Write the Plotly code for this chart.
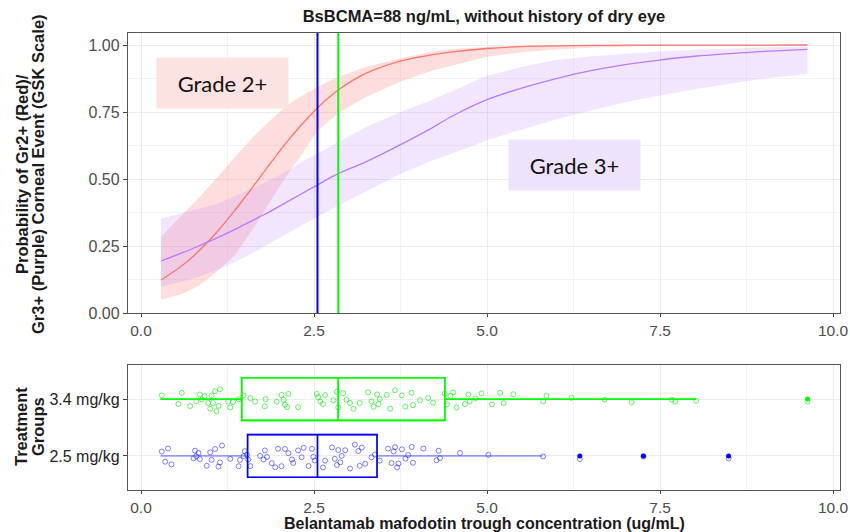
import plotly.graph_objects as go

# ---------------- data ----------------
conc = [0.29, 0.6, 0.85, 1.1, 1.35, 1.6, 1.85, 2.1, 2.3, 2.55, 2.85, 3.25, 3.75, 4.2, 4.5,
        5.0, 5.5, 6.0, 6.5, 7.0, 7.5, 8.0, 8.5, 9.0, 9.63]

gr2_mean = [0.123, 0.178, 0.235, 0.303, 0.381, 0.465, 0.552, 0.636, 0.697, 0.765, 0.832, 0.894, 0.940,
            0.963, 0.974, 0.987, 0.994, 0.997, 0.9985, 0.9993, 0.9996, 0.9998, 0.9999, 0.9999, 1.0]
gr2_upper = [0.285, 0.369, 0.434, 0.506, 0.580, 0.652, 0.715, 0.772, 0.807, 0.843, 0.882, 0.918, 0.951,
             0.975, 0.985, 0.993, 0.997, 0.999, 1.0, 1.0, 1.0, 1.0, 1.0, 1.0, 1.0]
gr2_lower = [0.049, 0.072, 0.104, 0.156, 0.214, 0.307, 0.409, 0.511, 0.583, 0.680, 0.745, 0.806, 0.864,
             0.904, 0.925, 0.956, 0.973, 0.983, 0.990, 0.994, 0.997, 0.998, 0.999, 0.999, 1.0]

gr3_mean = [0.194, 0.225, 0.252, 0.280, 0.311, 0.344, 0.377, 0.413, 0.442, 0.478, 0.520, 0.564, 0.628,
            0.690, 0.735, 0.796, 0.839, 0.875, 0.904, 0.927, 0.944, 0.958, 0.968, 0.976, 0.984]
gr3_upper = [0.353, 0.372, 0.390, 0.408, 0.435, 0.464, 0.494, 0.528, 0.560, 0.596, 0.638, 0.694, 0.750,
             0.795, 0.828, 0.885, 0.918, 0.944, 0.958, 0.968, 0.976, 0.982, 0.987, 0.991, 0.994]
gr3_lower = [0.098, 0.118, 0.136, 0.160, 0.189, 0.222, 0.258, 0.293, 0.322, 0.359, 0.400, 0.455, 0.520,
             0.568, 0.595, 0.645, 0.685, 0.722, 0.756, 0.786, 0.812, 0.835, 0.856, 0.875, 0.892]

groups = ["2.5 mg/kg", "3.4 mg/kg"]
group_colors = ["#0000FF", "#00FF00"]
whisker_colors = ["rgba(80,80,255,0.55)", "#00FF00"]
point_colors = ["rgba(0,0,255,0.5)", "rgba(0,230,0,0.6)"]
box_q1 = [1.54, 1.455]
box_median = [2.55, 2.85]
box_q3 = [3.41, 4.39]
box_low = [0.28, 0.28]
box_high = [5.80, 8.02]
outliers = [[6.34, 7.26, 8.49], [9.63]]

pts_25 = [0.30, 0.35, 0.39, 0.44, 0.76, 0.78, 0.80, 0.83, 0.85, 0.95, 1.00, 1.02, 1.07, 1.12, 1.14, 1.17,
          1.29, 1.41, 1.43, 1.48, 1.50, 1.53, 1.55, 1.58, 1.72, 1.77, 1.79, 1.82,
          1.89, 1.94, 1.98, 2.03, 2.08, 2.13, 2.18, 2.20, 2.27, 2.32, 2.35, 2.42, 2.47, 2.49, 2.51, 2.63,
          2.66, 2.76, 2.80, 2.83, 2.85, 2.88, 2.90, 2.95, 3.02, 3.09, 3.14, 3.16, 3.19, 3.24, 3.33, 3.38,
          3.45, 3.57, 3.62, 3.65, 3.67, 3.70, 3.72, 3.77, 3.82, 3.86, 3.91, 3.93, 4.08, 4.27, 4.30, 4.32,
          4.61, 5.02, 5.81, 6.34, 7.26, 8.49]
pts_34 = [0.30, 0.54, 0.59, 0.71, 0.80, 0.85, 0.88, 0.92, 0.97, 1.00, 1.02, 1.04, 1.07, 1.09, 1.12, 1.14,
          1.26, 1.29, 1.33, 1.41, 1.48, 1.58, 1.65, 1.79, 1.80,
          1.96, 2.03, 2.06, 2.08, 2.11, 2.13, 2.27, 2.54, 2.56, 2.59, 2.63, 2.66, 2.78, 2.83, 2.85, 2.92,
          2.97, 3.02, 3.07, 3.16, 3.28, 3.33, 3.36, 3.41, 3.43, 3.45, 3.55,
          3.60, 3.67, 3.77, 3.82, 3.91, 3.93, 4.03, 4.15, 4.22, 4.39, 4.42, 4.47, 4.51, 4.56, 4.68, 4.73,
          4.75, 4.83, 4.92, 5.07, 5.19, 5.24, 5.38, 5.81, 5.86, 6.22, 6.70, 7.09, 7.67, 7.72, 8.02, 9.63]
points = [pts_25, pts_34]

title_text = "BsBCMA=88 ng/mL, without history of dry eye"
ytitle_top = ["Probability of Gr2+ (Red)/", "Gr3+ (Purple) Corneal Event (GSK Scale)"]
ytitle_bottom = ["Treatment", "Groups"]
xtitle = "Belantamab mafodotin trough concentration (ug/mL)"

# ---------------- figure ----------------
FONT = "Liberation Sans, Arial, sans-serif"
fig = go.Figure()

def ribbon(x, lo, hi, color):
    return go.Scatter(x=list(x) + list(x)[::-1], y=list(hi) + list(lo)[::-1], fill="toself",
                      fillcolor=color, line=dict(width=0), mode="lines", hoverinfo="skip",
                      showlegend=False, xaxis="x", yaxis="y")

fig.add_trace(ribbon(conc, gr2_lower, gr2_upper, "rgba(248,118,109,0.24)"))
fig.add_trace(ribbon(conc, gr3_lower, gr3_upper, "rgba(190,130,255,0.20)"))
fig.add_trace(go.Scatter(x=conc, y=gr2_mean, mode="lines", line=dict(color="#F8766D", width=1.3, shape="spline"),
                         showlegend=False, xaxis="x", yaxis="y"))
fig.add_trace(go.Scatter(x=conc, y=gr3_mean, mode="lines", line=dict(color="#B77BFF", width=1.3, shape="spline"),
                         showlegend=False, xaxis="x", yaxis="y"))

# box plots (bottom)
for i, g in enumerate(groups):
    # jittered individual points
    fig.add_trace(go.Box(x=points[i], y=[g] * len(points[i]), orientation="h", boxpoints="all",
                         jitter=0.65, pointpos=0, width=0.75, whiskerwidth=0,
                         fillcolor="rgba(0,0,0,0)", line=dict(color="rgba(0,0,0,0)", width=0),
                         marker=dict(symbol="circle-open", size=5, color=point_colors[i],
                                     line=dict(width=1, color=point_colors[i])),
                         showlegend=False, xaxis="x2", yaxis="y2"))
    # whiskers
    fig.add_trace(go.Box(y=[g], q1=[box_q1[i]], median=[box_median[i]], q3=[box_q3[i]],
                         lowerfence=[box_low[i]], upperfence=[box_high[i]], orientation="h",
                         boxpoints=False, width=0.75, whiskerwidth=0,
                         fillcolor="rgba(0,0,0,0)", line=dict(color=whisker_colors[i], width=1.6),
                         showlegend=False, xaxis="x2", yaxis="y2"))
    # box body
    fig.add_trace(go.Box(y=[g], q1=[box_q1[i]], median=[box_median[i]], q3=[box_q3[i]],
                         lowerfence=[box_q1[i]], upperfence=[box_q3[i]], orientation="h",
                         boxpoints=False, width=0.75, whiskerwidth=0,
                         fillcolor="rgba(0,0,0,0)", line=dict(color=group_colors[i], width=1.6),
                         showlegend=False, xaxis="x2", yaxis="y2"))
    fig.add_trace(go.Scatter(x=outliers[i], y=[g] * len(outliers[i]), mode="markers",
                             marker=dict(color=group_colors[i], size=5), showlegend=False,
                             xaxis="x2", yaxis="y2"))

for i, g in enumerate(groups):
    fig.add_shape(type="line", x0=box_median[i], x1=box_median[i], y0=0, y1=1,
                  xref="x", yref="y domain", line=dict(color=group_colors[i], width=2))

GRID = "#EBEBEB"
MINOR = dict(showgrid=True, gridcolor="#F3F3F3", gridwidth=0.7, dtick=1.25, tick0=0, ticks="")
xaxis_common = dict(range=[-0.188, 10.10], tickvals=[0, 2.5, 5, 7.5, 10],
                    ticktext=["0.0", "2.5", "5.0", "7.5", "10.0"], automargin=False,
                    showgrid=True, gridcolor=GRID, gridwidth=1, zeroline=False,
                    showline=True, mirror=True, linecolor="#555555", linewidth=1.3,
                    ticks="outside", ticklen=3, tickcolor="#444444",
                    tickfont=dict(family=FONT, size=15.5, color="#4D4D4D"), minor=MINOR)

fig.update_layout(
    width=850, height=532,
    margin=dict(l=128, r=10, t=33, b=42, autoexpand=False),
    paper_bgcolor="white", plot_bgcolor="white",
    boxmode="overlay", showlegend=False,
    title=dict(text="<b>" + title_text + "</b>", x=0.5, xref="paper", xanchor="center",
               y=1 - 16 / 532, yref="container", yanchor="middle",
               font=dict(family=FONT, size=16.5, color="#1A1A1A")),
    xaxis=dict(domain=[0, 1], anchor="y", **xaxis_common),
    yaxis=dict(domain=[0.3873, 1], anchor="x", range=[0, 1.0448], automargin=False,
               tickvals=[0, 0.25, 0.5, 0.75, 1.0], ticktext=["0.00", "0.25", "0.50", "0.75", "1.00"],
               showgrid=True, gridcolor=GRID, gridwidth=1, zeroline=False,
               showline=True, mirror=True, linecolor="#555555", linewidth=1.3,
               ticks="outside", ticklen=4, tickcolor="#444444",
               tickfont=dict(family=FONT, size=16, color="#4D4D4D"),
               minor=dict(showgrid=True, gridcolor="#F3F3F3", gridwidth=0.7, dtick=0.125, tick0=0, ticks="")),
    xaxis2=dict(domain=[0, 1], anchor="y2", matches="x", **xaxis_common),
    yaxis2=dict(domain=[0, 0.2735], anchor="x2", type="category", automargin=False,
                categoryorder="array", categoryarray=groups, range=[-0.6, 1.6],
                showgrid=True, gridcolor=GRID, gridwidth=1, zeroline=False,
                showline=True, mirror=True, linecolor="#555555", linewidth=1.3,
                ticks="outside", ticklen=4, tickcolor="#444444",
                tickfont=dict(family=FONT, size=16, color="#222222")),
)

def px_x(px):
    return (px - 128) / 712

def px_y(py):
    return (490 - py) / 457

TFONT = dict(family=FONT, size=16.5, color="#1A1A1A")
annos = [
    dict(text="Grade 2+", x=1.18, y=0.858, xref="x", yref="y", showarrow=False,
         width=129, height=48, bgcolor="#FCE2E0", font=dict(family="Lato, Open Sans, sans-serif", size=22, color="#111111")),
    dict(text="Grade 3+", x=6.26, y=0.554, xref="x", yref="y", showarrow=False,
         width=129, height=48, bgcolor="#EEE3FC", font=dict(family="Lato, Open Sans, sans-serif", size=22, color="#111111")),
    dict(text="<b>" + ytitle_top[0] + "</b>", x=px_x(22), y=px_y(174), xref="paper", yref="paper",
         textangle=-90, showarrow=False, xanchor="center", yanchor="middle", font=TFONT),
    dict(text="<b>" + ytitle_top[1] + "</b>", x=px_x(38), y=px_y(174), xref="paper", yref="paper",
         textangle=-90, showarrow=False, xanchor="center", yanchor="middle", font=TFONT),
    dict(text="<b>" + ytitle_bottom[0] + "</b>", x=px_x(21), y=px_y(427), xref="paper", yref="paper",
         textangle=-90, showarrow=False, xanchor="center", yanchor="middle", font=TFONT),
    dict(text="<b>" + ytitle_bottom[1] + "</b>", x=px_x(38), y=px_y(427), xref="paper", yref="paper",
         textangle=-90, showarrow=False, xanchor="center", yanchor="middle", font=TFONT),
    dict(text="<b>" + xtitle + "</b>", x=0.5, y=px_y(523), xref="paper", yref="paper",
         showarrow=False, xanchor="center", yanchor="middle",
         font=dict(family=FONT, size=16, color="#1A1A1A")),
]
fig.update_layout(annotations=annos)

fig.write_html("out.html", config={"displayModeBar": False},
               post_script="document.body.style.margin='0';document.body.style.padding='0';"
                           "document.body.style.overflow='hidden';")
